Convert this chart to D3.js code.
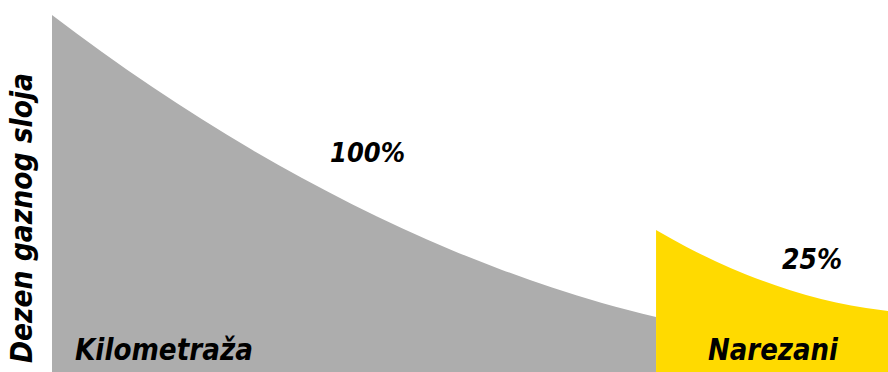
<!DOCTYPE html>
<html lang="sr">
<head>
<meta charset="utf-8">
<title>Dezen gaznog sloja</title>
<script src="https://d3js.org/d3.v7.min.js"></script>
<style>
  body { margin: 0; background: #fff; }
  text { font-family: "DejaVu Sans", sans-serif; font-weight: bold; font-style: italic; fill: #000; }
</style>
</head>
<body>
<script>
// tread depth (% of new) against distance driven
var usedKm    = [0, 8.28, 16.56, 24.83, 33.11, 41.39, 49.67, 57.94, 66.22, 74.50, 82.78, 91.05, 100];
var usedDepth = [100, 89.66, 79.92, 70.78, 62.24, 54.31, 46.97, 40.25, 34.12, 28.60, 23.67, 19.36, 15.38];
var cutKm     = [100, 104.97, 109.93, 114.90, 119.87, 124.83, 129.80, 134.77, 138.4];
var cutDepth  = [39.78, 35.11, 30.96, 27.33, 24.20, 21.59, 19.50, 17.92, 17.08];

var labels = { y: "Dezen gaznog sloja", used: "Kilometraža", cut: "Narezani" };
var pct = { used: "100%", cut: "25%" };

var width = 888, height = 372;
var margin = {top: 15, right: 0, bottom: 0, left: 52};

var svg = d3.select("body").append("svg")
    .attr("width", width)
    .attr("height", height);

var x = d3.scaleLinear()
    .domain([0, 138.4])
    .range([margin.left, width - margin.right]);

var y = d3.scaleLinear()
    .domain([0, 100])
    .range([height - margin.bottom, margin.top]);

var area = d3.area()
    .curve(d3.curveMonotoneX)
    .x(function(d) { return x(d[0]); })
    .y0(y(0))
    .y1(function(d) { return y(d[1]); });

svg.append("path")
    .datum(d3.zip(usedKm, usedDepth))
    .attr("fill", "#adadad")
    .attr("d", area);

svg.append("path")
    .datum(d3.zip(cutKm, cutDepth))
    .attr("fill", "#ffda00")
    .attr("d", area);

// y label
svg.append("text")
    .attr("transform", "translate(32,218) rotate(-90)")
    .attr("text-anchor", "middle")
    .attr("font-size", "31px")
    .attr("textLength", 290)
    .attr("lengthAdjust", "spacingAndGlyphs")
    .text(labels.y);

// bottom labels
svg.append("text")
    .attr("x", 75).attr("y", 360)
    .attr("font-size", "31px")
    .attr("textLength", 178)
    .attr("lengthAdjust", "spacingAndGlyphs")
    .text(labels.used);

svg.append("text")
    .attr("x", 708).attr("y", 360)
    .attr("font-size", "30px")
    .attr("textLength", 130)
    .attr("lengthAdjust", "spacingAndGlyphs")
    .text(labels.cut);

// percentages
svg.append("text")
    .attr("x", 330).attr("y", 162)
    .attr("font-size", "26px")
    .attr("textLength", 75)
    .attr("lengthAdjust", "spacingAndGlyphs")
    .text(pct.used);

svg.append("text")
    .attr("x", 782).attr("y", 269)
    .attr("font-size", "28px")
    .attr("textLength", 60)
    .attr("lengthAdjust", "spacingAndGlyphs")
    .text(pct.cut);
</script>
</body>
</html>
